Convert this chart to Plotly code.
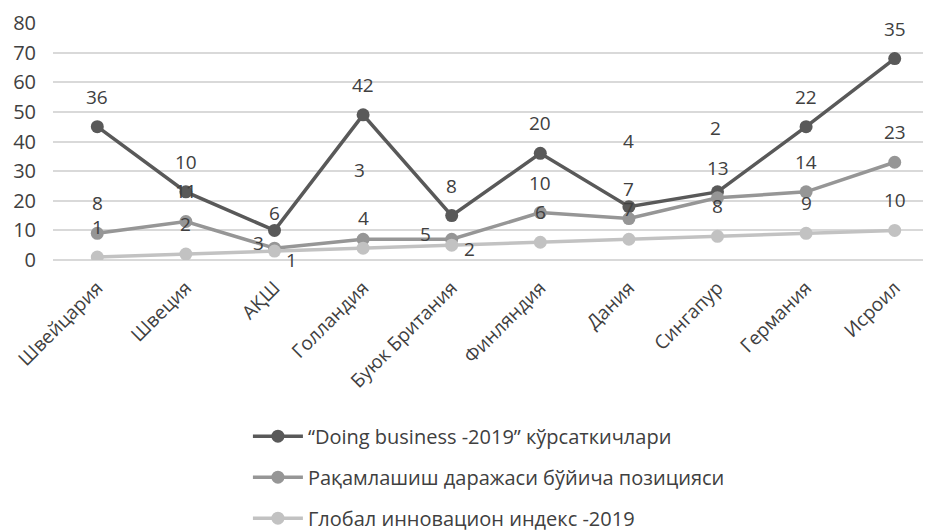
import numpy as np
import plotly.graph_objects as go

categories = ["Швейцария", "Швеция", "АҚШ", "Голландия", "Буюк Британия",
              "Финляндия", "Дания", "Сингапур", "Германия", "Исроил"]
glob_vals = [1, 2, 3, 4, 5, 6, 7, 8, 9, 10]
rak_vals = [8, 11, 1, 3, 2, 10, 7, 13, 14, 23]
doing_vals = [36, 10, 6, 42, 8, 20, 4, 2, 22, 35]

names = ["“Doing business -2019” кўрсаткичлари",
         "Рақамлашиш даражаси бўйича позицияси",
         "Глобал инновацион индекс -2019"]
colors = ["#595959", "#969696", "#c2c2c2"]

# stacked (cumulative) values, as in the original stacked line chart
glob_top = np.array(glob_vals)
rak_top = glob_top + np.array(rak_vals)
doing_top = rak_top + np.array(doing_vals)

series = [(names[0], doing_vals, doing_top, colors[0]),
          (names[1], rak_vals, rak_top, colors[1]),
          (names[2], glob_vals, glob_top, colors[2])]

# label offsets in pixels (series index, category index) -> (dx, dy)
default_shift = (0, 30)
label_shifts = {
    (0, 2): (0, 17), (1, 2): (17, -12), (2, 2): (-16, 8),
    (1, 3): (-4, 69),
    (1, 4): (18, -10), (2, 4): (-26, 11),
    (0, 6): (0, 66),
    (0, 7): (-2, 64),
}

FONT = "Open Sans"
TXT = "#404040"
fig = go.Figure()

for si, (nm, raw, top, col) in enumerate(series):
    fig.add_trace(go.Scatter(
        x=categories, y=top, name=nm, mode="lines+markers",
        line=dict(color=col, width=3.5),
        marker=dict(color=col, size=13),
        legendgroup=str(si),
    ))

annotations = []
for si, (nm, raw, top, col) in enumerate(series):
    for ci, c in enumerate(categories):
        dx, dy = label_shifts.get((si, ci), default_shift)
        annotations.append(dict(
            x=c, y=float(top[ci]), text=str(raw[ci]), showarrow=False,
            xshift=dx, yshift=dy, font=dict(family=FONT, size=19, color=TXT),
        ))

fig.update_layout(
    width=931, height=531,
    margin=dict(l=45, r=0, t=15, b=279, autoexpand=False),
    paper_bgcolor="white", plot_bgcolor="white",
    font=dict(family=FONT, size=19, color=TXT),
    annotations=annotations,
    showlegend=True,
    legend=dict(x=0.22, y=-0.661, xanchor="left", yanchor="top",
                orientation="v", tracegroupgap=12, itemwidth=50,
                font=dict(family=FONT, size=20, color=TXT)),
    xaxis=dict(range=[-0.5, 9.5], tickangle=-45, showgrid=False,
               showline=False, ticks="", tickfont=dict(size=19),
               ticklabelstandoff=12),
    yaxis=dict(range=[0, 80], dtick=10, showgrid=True, gridcolor="#d9d9d9",
               gridwidth=1.5, zeroline=True, zerolinecolor="#d9d9d9",
               zerolinewidth=1.5, showline=False, ticks="",
               ticklabelstandoff=16, tickfont=dict(size=20)),
)

fig.write_html("out.html")
